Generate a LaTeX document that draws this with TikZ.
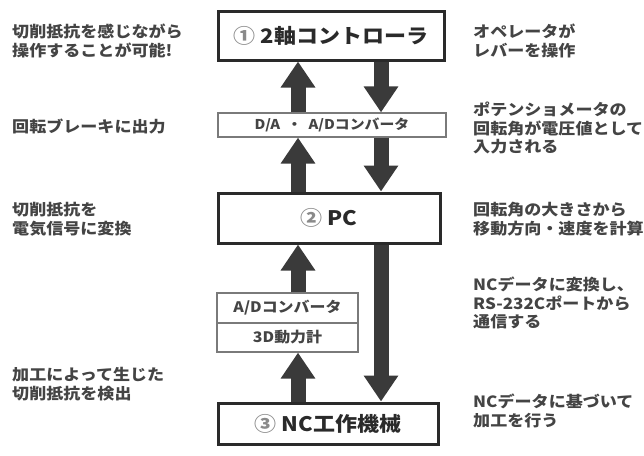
\documentclass[tikz,border=0pt]{standalone}
\usepackage{fontspec}
\usetikzlibrary{arrows.meta}
\newfontfamily\jp[FakeStretch=1.1]{Noto Sans CJK JP}
\definecolor{txt}{HTML}{444444}
\definecolor{boxc}{HTML}{2A2A2A}
\definecolor{thin}{HTML}{7A7A7A}
\definecolor{arrc}{HTML}{3A3A3A}
\definecolor{numc}{HTML}{8A8A8A}
\begin{document}
\begin{tikzpicture}[x=1pt,y=-1pt,
  side/.style={anchor=west, inner sep=0pt, align=left, text=txt, font=\jp\bfseries\fontsize{15.5}{18.8}\selectfont},
  mainbox/.style={draw=boxc, line width=3pt, inner sep=0pt, font=\jp\bfseries\fontsize{20}{23}\selectfont, text=boxc},
  subbox/.style={draw=thin, line width=1.2pt, inner sep=0pt, font=\jp\bfseries\fontsize{14.5}{17}\selectfont, text=txt},
  bigarr/.style={draw=arrc, line width=15pt, -{Triangle[width=33pt,length=26pt]}},
]
\useasboundingbox (0,0) rectangle (644,455);
% boxes
\node[mainbox, minimum width=226pt, minimum height=49pt] (c1) at (331,35.5) {\textcolor{numc}{①}\ 2軸コントローラ};
\node[subbox, minimum width=228pt, minimum height=24pt, font=\jp\bfseries\fontsize{13.5}{16}\selectfont] (da) at (332,125) {D/A\ \ ・\ \ A/Dコンバータ};
\node[mainbox, minimum width=222pt, minimum height=50pt] (pc) at (329,218) {\textcolor{numc}{②}\ PC};
\node[subbox, minimum width=141pt, minimum height=30pt] (ad) at (287.5,308) {A/Dコンバータ};
\node[subbox, minimum width=141pt, minimum height=29pt] (dyn) at (287.5,337.5) {3D動力計};
\node[mainbox, minimum width=220pt, minimum height=41pt] (nc) at (328,423.5) {\textcolor{numc}{③}\ NC工作機械};
% arrows
\coordinate (ux) at (298,0);
\coordinate (dx) at (381,0);
\draw[bigarr] (da.north -| ux) -- (c1.south -| ux);
\draw[bigarr] (c1.south -| dx) -- (da.north -| dx);
\draw[bigarr] (pc.north -| ux) -- (da.south -| ux);
\draw[bigarr] (da.south -| dx) -- (pc.north -| dx);
\draw[bigarr] (ad.north -| ux) -- (pc.south -| ux);
\draw[bigarr] (pc.south -| dx) -- (nc.north -| dx);
\draw[bigarr] (nc.north -| ux) -- (dyn.south -| ux);
% side texts
\node[side] (l1) at (12,41) {切削抵抗を感じながら\\操作することが可能!};
\node[side] (l2) at (12,126) {回転ブレーキに出力};
\node[side] (l3) at (12,219) {切削抵抗を\\電気信号に変換};
\node[side] (l4) at (12,384) {加工によって生じた\\切削抵抗を検出};
\node[side] (r1) at (473,41) {オペレータが\\レバーを操作};
\node[side] (r2) at (473,128) {ポテンショメータの\\回転角が電圧値として\\入力される};
\node[side] (r3) at (473,219) {回転角の大きさから\\移動方向・速度を計算};
\node[side] (r4) at (473,303) {NCデータに変換し、\\RS-232Cポートから\\通信する};
\node[side] (r5) at (473,411) {NCデータに基づいて\\加工を行う};
\end{tikzpicture}
\end{document}
